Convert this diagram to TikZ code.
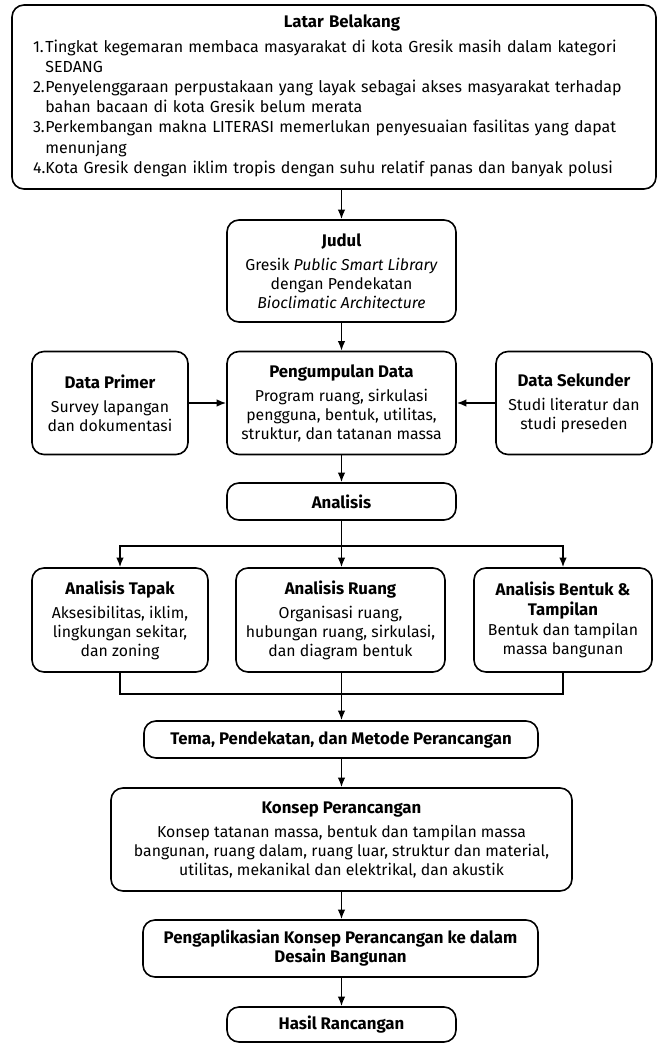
\documentclass[tikz,border=0pt]{standalone}
\usepackage{fontspec}
\setmainfont{Fira Sans}
\usetikzlibrary{arrows.meta}
\newcommand\ttlfont{\fontsize{8.4}{9.5}\selectfont\bfseries}
\newcommand\bdyfont{\fontsize{7.9}{9.5}\selectfont}
\newcommand\lbfont{\fontsize{8}{10.1}\selectfont}
\begin{document}
\begin{tikzpicture}[x=0.5pt,y=-0.5pt,
  box/.style={draw, line width=0.8pt, rounded corners=6pt, align=center, inner sep=0pt, font=\bdyfont},
  arr/.style={-{Latex[length=4.8pt,width=3.8pt]}, line width=0.8pt},
  ln/.style={line width=0.8pt}]
\useasboundingbox (0,0) rectangle (659,1043);

\node[box, minimum width=322pt, minimum height=92pt, text width=306pt, align=left] (latar) at (334,97)
{\parbox{306pt}{\centering\hspace*{8pt}{\ttlfont Latar Belakang}\par\vspace{2.5pt}\raggedright\lbfont
\hspace*{2.5pt}\begin{tabular}{@{}l@{}l@{}}
1.&Tingkat kegemaran membaca masyarakat di kota Gresik masih dalam kategori\\
&SEDANG\\
2.&Penyelenggaraan perpustakaan yang layak sebagai akses masyarakat terhadap\\
&bahan bacaan di kota Gresik belum merata\\
3.&Perkembangan makna LITERASI memerlukan penyesuaian fasilitas yang dapat\\
&menunjang\\
4.&Kota Gresik dengan iklim tropis dengan suhu relatif panas dan banyak polusi
\end{tabular}}};

\node[box, minimum width=114.5pt, minimum height=51pt] (judul) at (341.5,271)
{{\ttlfont Judul}\\[2.5pt] Gresik \textit{Public Smart Library}\\ dengan Pendekatan\\ \textit{Bioclimatic Architecture}};

\node[box, minimum width=114.5pt, minimum height=51.5pt] (kumpul) at (341.5,403)
{{\ttlfont Pengumpulan Data}\\[2.5pt] Program ruang, sirkulasi\\ pengguna, bentuk, utilitas,\\ struktur, dan tatanan massa};

\node[box, minimum width=78pt, minimum height=51.5pt] (primer) at (110,403)
{{\ttlfont Data Primer}\\[2.5pt] Survey lapangan\\ dan dokumentasi};

\node[box, minimum width=78pt, minimum height=51.5pt] (sekunder) at (574,403)
{{\ttlfont Data Sekunder}\\[2.5pt] Studi literatur dan\\ studi preseden};

\node[box, minimum width=114.5pt, minimum height=18.5pt] (analisis) at (341.5,501.5)
{\ttlfont Analisis};

\node[box, minimum width=88pt, minimum height=52pt] (tapak) at (120,620)
{{\ttlfont Analisis Tapak}\\[2.5pt] Aksesibilitas, iklim,\\ lingkungan sekitar,\\ dan zoning};

\node[box, minimum width=104.5pt, minimum height=52pt] (ruang) at (340.5,620)
{{\ttlfont Analisis Ruang}\\[2.5pt] Organisasi ruang,\\ hubungan ruang, sirkulasi,\\ dan diagram bentuk};

\node[box, minimum width=89pt, minimum height=52pt] (bentuk) at (563,620)
{{\ttlfont Analisis Bentuk \&}\\[0.5pt] {\ttlfont Tampilan}\\[0.5pt] Bentuk dan tampilan\\ massa bangunan};

\node[box, minimum width=197pt, minimum height=18.5pt] (tema) at (341,739.5)
{\ttlfont Tema, Pendekatan, dan Metode Perancangan};

\node[box, minimum width=230.5pt, minimum height=51.5pt] (konsep) at (341.5,839.5)
{{\ttlfont Konsep Perancangan}\\[2.5pt] Konsep tatanan massa, bentuk dan tampilan massa\\ bangunan, ruang dalam, ruang luar, struktur dan material,\\ utilitas, mekanikal dan elektrikal, dan akustik};

\node[box, minimum width=197.5pt, minimum height=28.5pt, font=\ttlfont] (aplikasi) at (340.5,948.5)
{Pengaplikasian Konsep Perancangan ke dalam\\ Desain Bangunan};

\node[box, minimum width=114.5pt, minimum height=17.5pt] (hasil) at (341.5,1024.5)
{\ttlfont Hasil Rancangan};

\coordinate (split) at (341.5,546);
\coordinate (merge) at (341.5,694);

\draw[arr] (judul.north |- latar.south) -- (judul.north);
\draw[arr] (judul) -- (kumpul);
\draw[arr] (primer) -- (kumpul);
\draw[arr] (sekunder) -- (kumpul);
\draw[arr] (kumpul) -- (analisis);
\draw[arr] (analisis.south) -- (ruang.north -| analisis.south);
\draw[arr] (split) -| (tapak.north);
\draw[arr] (split) -| (bentuk.north);
\draw[ln] (tapak.south) |- (merge);
\draw[ln] (bentuk.south) |- (merge);
\draw[arr] (ruang.south -| merge) -- (tema.north -| merge);
\draw[arr] (tema.south -| konsep.north) -- (konsep.north);
\draw[arr] (konsep.south) -- (aplikasi.north -| konsep.south);
\draw[arr] (aplikasi.south -| hasil.north) -- (hasil.north);
\end{tikzpicture}
\end{document}
